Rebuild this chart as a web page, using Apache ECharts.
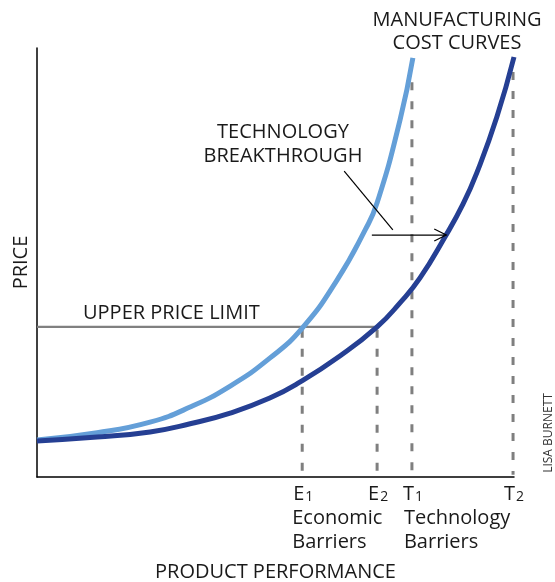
<!DOCTYPE html>
<html>
<head>
<meta charset="utf-8">
<script src="https://cdn.jsdelivr.net/npm/echarts@6/dist/echarts.min.js"></script>
<style>
  html, body { margin: 0; padding: 0; background: #fff; }
  #main { width: 555px; height: 582px; }
</style>
</head>
<body>
<div id="main"></div>
<script>
// performance (x) and price (y), both on a 0-100 scale
const perfLight = [0, 12.6, 23.7, 32.1, 40.5, 48.8, 55.6, 62.9, 68.8, 71.3, 76.1, 78.8];
const costLight = [8.6, 10.3, 12.8, 16.3, 21.2, 27.7, 34.7, 45.9, 57.6, 63.9, 83.2, 97.7];
const perfDark = [0, 12.6, 23.7, 32.1, 40.5, 48.8, 55.1, 63.5, 71.3, 76.1, 80.3, 85.5, 89.3, 92.2, 96.4, 100];
const costDark = [8.4, 9.3, 10.5, 12.4, 14.9, 18.4, 22.1, 28.2, 35.0, 40.6, 46.4, 55.9, 63.6, 70.9, 83.9, 97.9];

const priceLimit = 35;
const barrierLetters = ["E", "E", "T", "T"];
const barrierSubs = ["1", "2", "1", "2"];
const barrierX = [55.6, 71.3, 78.6, 99.8];
const barrierTop = [34.3, 34.3, 92, 94.4];

// technology breakthrough arrow + leader
const arrowX = [70.2, 85.8];
const arrowY = 56.4;
const leaderX = [64.4, 74.6];
const leaderY = [71.3, 57.6];

const FONT = "'Open Sans', 'Noto Sans', sans-serif";
const INK = "#1a1a1a";

const pairs = (xs, ys) => xs.map((x, i) => [x, ys[i]]);

let chart = echarts.init(document.getElementById("main"));

const dashSeries = barrierX.map((x, i) => ({
  type: "line",
  data: [[x, barrierTop[i]], [x, 0.5]],
  symbol: "none",
  silent: true,
  z: 1,
  lineStyle: { color: "#7f7f7f", width: 3, type: [8, 11] },
}));

const options = {
  animation: false,
  grid: { left: 37, right: 41, top: 48, bottom: 105, containLabel: false, outerBoundsMode: "none" },
  xAxis: {
    type: "value",
    min: 0,
    max: 100,
    name: "PRODUCT PERFORMANCE",
    nameLocation: "middle",
    nameGap: 85,
    nameTextStyle: { fontFamily: FONT, fontSize: 20, color: INK },
    axisLine: { show: true, lineStyle: { color: "#000", width: 1.5 } },
    axisTick: { show: false },
    axisLabel: { show: false },
    splitLine: { show: false },
  },
  yAxis: {
    type: "value",
    min: 0,
    max: 100,
    name: "PRICE",
    nameLocation: "middle",
    nameGap: 6,
    nameTextStyle: { fontFamily: FONT, fontSize: 20, color: INK },
    axisLine: { show: true, lineStyle: { color: "#000", width: 1.5 } },
    axisTick: { show: false },
    axisLabel: { show: false },
    splitLine: { show: false },
  },
  series: [
    ...dashSeries,
    {
      // upper price limit
      type: "line",
      data: [[0, priceLimit], [barrierX[1], priceLimit]],
      symbol: "none",
      z: 2,
      lineStyle: { color: "#808080", width: 2.2 },
    },
    {
      type: "line",
      data: pairs(perfLight, costLight),
      smooth: 0.5,
      symbol: "none",
      z: 3,
      lineStyle: { color: "#649fd8", width: 5 },
    },
    {
      type: "line",
      data: pairs(perfDark, costDark),
      smooth: 0.5,
      symbol: "none",
      z: 3,
      lineStyle: { color: "#253f93", width: 5 },
    },
    {
      type: "line",
      data: [[arrowX[0], arrowY], [arrowX[1], arrowY]],
      symbol: "none",
      z: 5,
      lineStyle: { color: "#000", width: 1.2 },
    },
    {
      type: "line",
      data: pairs(leaderX, leaderY),
      symbol: "none",
      z: 5,
      lineStyle: { color: "#000", width: 1.2 },
    },
  ],
};

chart.setOption(options);

// annotations placed from the chart's own scale
const toPx = (x, y) => chart.convertToPixel({ gridIndex: 0 }, [x, y]);
const txt = (text, x, y, align, size, extra) => ({
  type: "text",
  x: x,
  y: y,
  z: 10,
  style: Object.assign(
    {
      text: text,
      fill: INK,
      fontFamily: FONT,
      fontSize: size || 20,
      align: align || "center",
      verticalAlign: "middle",
      textAlign: align || "center",
      textVerticalAlign: "middle",
    },
    extra || {}
  ),
});

const tip = toPx(arrowX[1], arrowY);
const graphics = [
  {
    type: "polyline",
    z: 10,
    shape: { points: [[tip[0] - 12, tip[1] - 6], [tip[0], tip[1]], [tip[0] - 12, tip[1] + 6]] },
    style: { stroke: "#000", lineWidth: 1.2, fill: null },
  },
  txt("MANUFACTURING", 457, 20, "center", 20),
  txt("COST CURVES", 457, 43, "center", 20),
  txt("TECHNOLOGY", 283, 132),
  txt("BREAKTHROUGH", 283, 156),
  txt("UPPER PRICE LIMIT", 83, 313, "left"),
  txt("LISA BURNETT", 549, 433, "center", 12, { fill: "#333" }),
];
graphics[graphics.length - 1].rotation = Math.PI / 2;

barrierX.forEach((x, i) => {
  const p = toPx(x, 0);
  graphics.push(
    txt("{a|" + barrierLetters[i] + "}{b|" + barrierSubs[i] + "}", p[0] + 1, 494, "center", 20, {
      rich: {
        a: { fontFamily: FONT, fontSize: 20, fill: INK },
        b: { fontFamily: FONT, fontSize: 14, fill: INK, verticalAlign: "bottom", padding: [0, 0, 0, 1] },
      },
    })
  );
});

const e1 = toPx(barrierX[0], 0);
const t1 = toPx(barrierX[2], 0);
graphics.push(
  txt("Economic", e1[0] - 10, 518, "left"),
  txt("Barriers", e1[0] - 10, 542, "left"),
  txt("Technology", t1[0] - 8, 518, "left"),
  txt("Barriers", t1[0] - 8, 542, "left")
);

chart.setOption({ graphic: graphics });
</script>
</body>
</html>
